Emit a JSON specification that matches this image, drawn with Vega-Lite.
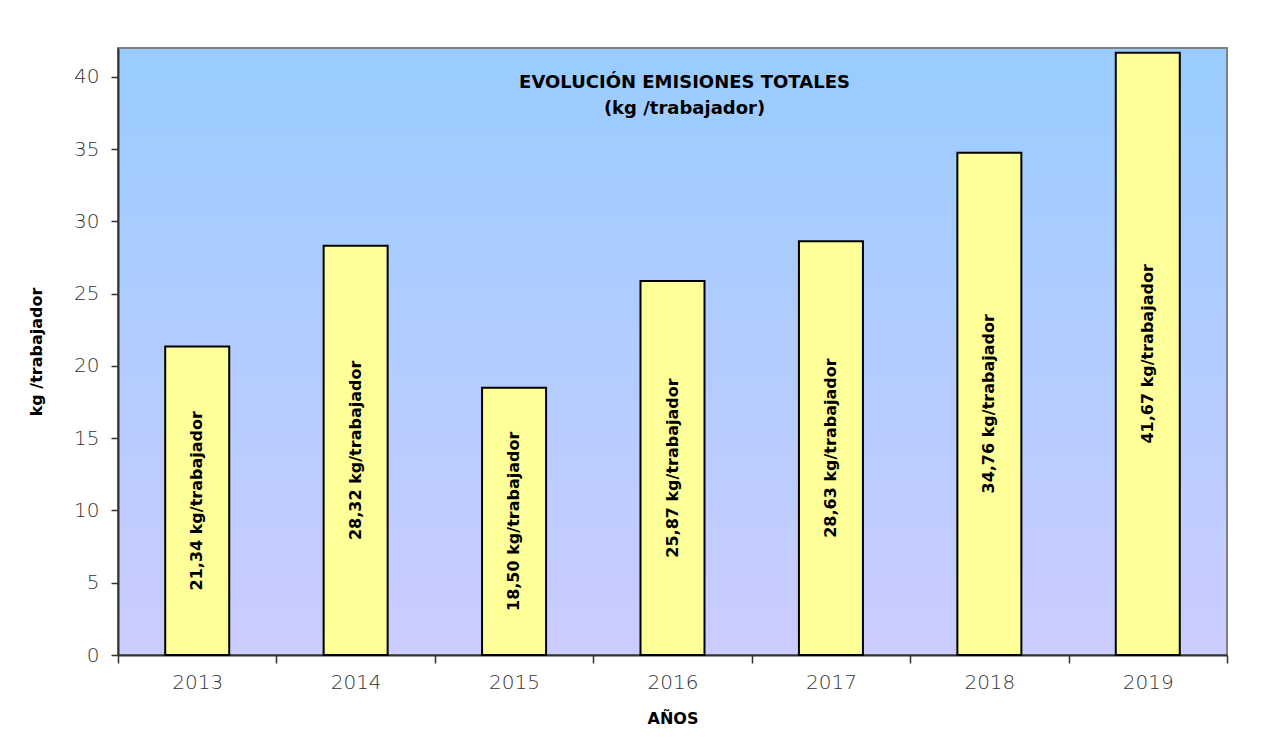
{
  "$schema": "https://vega.github.io/schema/vega-lite/v6.json",
  "width": 1109,
  "height": 607,
  "autosize": {"type": "none"},
  "padding": {"left": 118, "top": 48, "right": 61, "bottom": 83},
  "background": "white",
  "data": {
    "values": [
      {"year": "2013", "value": 21.34, "label": "21,34 kg/trabajador"},
      {"year": "2014", "value": 28.32, "label": "28,32 kg/trabajador"},
      {"year": "2015", "value": 18.50, "label": "18,50 kg/trabajador"},
      {"year": "2016", "value": 25.87, "label": "25,87 kg/trabajador"},
      {"year": "2017", "value": 28.63, "label": "28,63 kg/trabajador"},
      {"year": "2018", "value": 34.76, "label": "34,76 kg/trabajador"},
      {"year": "2019", "value": 41.67, "label": "41,67 kg/trabajador"}
    ]
  },
  "title": {
    "text": "EVOLUCIÓN EMISIONES TOTALES",
    "subtitle": "(kg /trabajador)",
    "orient": "top",
    "anchor": "middle",
    "offset": -70,
    "dx": 12,
    "font": "DejaVu Sans",
    "fontSize": 18,
    "fontWeight": "bold",
    "color": "#000000",
    "subtitleFont": "DejaVu Sans",
    "subtitleFontSize": 18,
    "subtitleFontWeight": "bold",
    "subtitleColor": "#000000",
    "subtitlePadding": 8
  },
  "config": {
    "view": {
      "fill": {"gradient": "linear", "x1": 0, "y1": 0, "x2": 0, "y2": 1, "stops": [{"offset": 0, "color": "#99ccff"}, {"offset": 1, "color": "#ccccff"}]},
      "stroke": "#808080",
      "strokeWidth": 2
    },
    "axis": {
      "labelFont": "DejaVu Sans",
      "labelFontSize": 20,
      "labelFontWeight": 300,
      "labelColor": "#333333",
      "titleFont": "DejaVu Sans",
      "titleFontSize": 16,
      "titleFontWeight": "bold",
      "titleColor": "#000000",
      "domainColor": "#333333",
      "domainWidth": 2,
      "tickColor": "#333333",
      "tickWidth": 1.5,
      "grid": false
    }
  },
  "layer": [
    {
      "mark": {"type": "bar", "fill": "#ffff99", "stroke": "#000000", "strokeWidth": 2, "width": {"band": 0.404}},
      "encoding": {
        "x": {
          "field": "year", "type": "ordinal",
          "scale": {"paddingInner": 0, "paddingOuter": 0},
          "axis": {"title": "AÑOS", "labelAngle": 0, "tickBand": "extent", "tickSize": 8, "labelPadding": 9, "titlePadding": 18}
        },
        "y": {
          "field": "value", "type": "quantitative",
          "scale": {"domain": [0, 42], "nice": false},
          "axis": {"title": "kg /trabajador", "values": [0, 5, 10, 15, 20, 25, 30, 35, 40], "tickSize": 7, "labelPadding": 12, "titlePadding": 29}
        }
      }
    },
    {
      "transform": [{"calculate": "datum.value / 2", "as": "mid"}],
      "mark": {"type": "text", "angle": 270, "align": "center", "baseline": "middle", "font": "DejaVu Sans", "fontSize": 16, "fontWeight": "bold", "color": "#000000"},
      "encoding": {
        "x": {"field": "year", "type": "ordinal"},
        "y": {"field": "mid", "type": "quantitative"},
        "text": {"field": "label"}
      }
    }
  ]
}
